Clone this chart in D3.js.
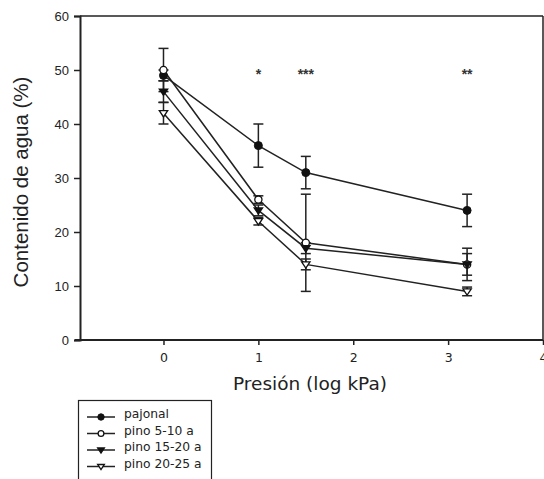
<!DOCTYPE html>
<html><head><meta charset="utf-8">
<script src="https://cdn.jsdelivr.net/npm/d3@7"></script>
<style>body{margin:0;background:#fff}svg{display:block}</style>
</head><body>
<script>
const pressure = [0, 1, 1.5, 3.2];
const seriesNames = ["pajonal", "pino 5-10 a", "pino 15-20 a", "pino 20-25 a"];
const pajonal = [49, 36, 31, 24];
const pajonalErr = [1, 4, 3, 3];
const pino510 = [50, 26, 18, 14];
const pino510Err = [4, 0.7, 9, 3];
const pino1520 = [46, 24, 17, 14];
const pino1520Err = [2, 1, 1, 2];
const pino2025 = [42, 22, 14, 9];
const pino2025Err = [2, 0.7, 1, 0.8];
const symbols = ["filledCircle", "openCircle", "filledTri", "openTri"];
const signif = ["", "*", "***", "**"];
const xTicks = [0, 1, 2, 3, 4];
const yTicks = [0, 10, 20, 30, 40, 50, 60];

const W = 544, H = 479;
const svg = d3.select("body").append("svg").attr("width", W).attr("height", H);
const x = d3.scaleLinear().domain([-0.88, 4]).range([80, 543]);
const y = d3.scaleLinear().domain([0, 60]).range([340, 16]);
const ink = "#222";

// frame
svg.append("line").attr("x1", 80).attr("x2", 543).attr("y1", 16).attr("y2", 16).attr("stroke", ink).attr("stroke-width", 1.5);
svg.append("line").attr("x1", 543).attr("x2", 543).attr("y1", 16).attr("y2", 340).attr("stroke", ink).attr("stroke-width", 1.5);

const yAxis = svg.append("g").attr("transform", "translate(80,0)")
  .call(d3.axisLeft(y).tickValues(yTicks).tickFormat(d3.format("d")).tickSize(6).tickPadding(5));
const xAxis = svg.append("g").attr("transform", "translate(0,340)")
  .call(d3.axisBottom(x).tickValues(xTicks).tickFormat(d3.format("d")).tickSize(5).tickPadding(8));
[yAxis, xAxis].forEach(g => {
  g.select(".domain").attr("stroke", ink).attr("stroke-width", 2);
  g.selectAll(".tick line").attr("stroke", ink).attr("stroke-width", 1.5);
  g.selectAll("text").attr("fill", "#222").style("font-family", "Liberation Sans, Arial, sans-serif").style("font-size", "13px");
});
xAxis.selectAll("text").style("font-family", "DejaVu Sans, Verdana, sans-serif").style("font-size", "12.5px");
xAxis.select(".domain").attr("d", "M75,0H543");

svg.append("text").attr("transform", "translate(28,182) rotate(-90)").attr("text-anchor", "middle")
  .style("font-family", "Liberation Sans, Arial, sans-serif").style("font-size", "20.5px").attr("fill", "#222")
  .text("Contenido de agua (%)");
svg.append("text").attr("x", 310).attr("y", 390).attr("text-anchor", "middle")
  .style("font-family", "DejaVu Sans, Verdana, sans-serif").style("font-size", "18.5px").attr("fill", "#222")
  .text("Presión (log kPa)");

const series = [
  {v: pajonal, e: pajonalErr},
  {v: pino510, e: pino510Err},
  {v: pino1520, e: pino1520Err},
  {v: pino2025, e: pino2025Err}
];

function drawSymbol(g, type, cx, cy, sc) {
  sc = sc || 1;
  if (type === "filledCircle") g.append("circle").attr("cx", cx).attr("cy", cy).attr("r", 4 * sc).attr("fill", "#111").attr("stroke", "#111");
  else if (type === "openCircle") g.append("circle").attr("cx", cx).attr("cy", cy).attr("r", 3.6 * sc).attr("fill", "#fff").attr("stroke", "#111").attr("stroke-width", 1.3);
  else {
    const s = 4.2 * sc;
    const p = `M${cx - s},${cy - s * 0.6}L${cx + s},${cy - s * 0.6}L${cx},${cy + s * 0.9}Z`;
    g.append("path").attr("d", p).attr("fill", type === "filledTri" ? "#111" : "#fff").attr("stroke", "#111").attr("stroke-width", 1.3);
  }
}

const line = d3.line().x((d, i) => x(pressure[i])).y(d => y(d));
const plot = svg.append("g");
series.forEach(s => {
  plot.append("path").attr("d", line(s.v)).attr("fill", "none").attr("stroke", ink).attr("stroke-width", 1.5);
});
series.forEach(s => {
  s.v.forEach((v, i) => {
    const cx = x(pressure[i]);
    const y1 = y(v + s.e[i]), y2 = y(v - s.e[i]);
    plot.append("line").attr("x1", cx).attr("x2", cx).attr("y1", y1).attr("y2", y2).attr("stroke", ink).attr("stroke-width", 1.5);
    [y1, y2].forEach(yy => plot.append("line").attr("x1", cx - 5).attr("x2", cx + 5).attr("y1", yy).attr("y2", yy).attr("stroke", ink).attr("stroke-width", 1.5));
  });
});
series.forEach((s, k) => {
  s.v.forEach((v, i) => drawSymbol(plot, symbols[k], x(pressure[i]), y(v)));
});

signif.forEach((t, i) => {
  if (!t) return;
  svg.append("text").attr("x", x(pressure[i])).attr("y", 79).attr("text-anchor", "middle")
    .style("font-family", "Liberation Sans, Arial, sans-serif").style("font-size", "14px").style("font-weight", "bold").attr("fill", "#333").text(t);
});

// legend
const lg = svg.append("g");
lg.append("rect").attr("x", 78.5).attr("y", 400.5).attr("width", 133).attr("height", 90).attr("fill", "#fff").attr("stroke", ink).attr("stroke-width", 1.2);
seriesNames.forEach((n, k) => {
  const yy = 417 + k * 16.5;
  lg.append("line").attr("x1", 87).attr("x2", 115).attr("y1", yy).attr("y2", yy).attr("stroke", ink).attr("stroke-width", 1.5);
  const g = lg.append("g");
  drawSymbol(g, symbols[k], 101, yy, 0.8);
  lg.append("text").attr("x", 124).attr("y", yy + 1).style("font-family", "DejaVu Sans, Verdana, sans-serif").style("font-size", "12.3px").attr("fill", "#222").text(n);
});
</script>
</body></html>
